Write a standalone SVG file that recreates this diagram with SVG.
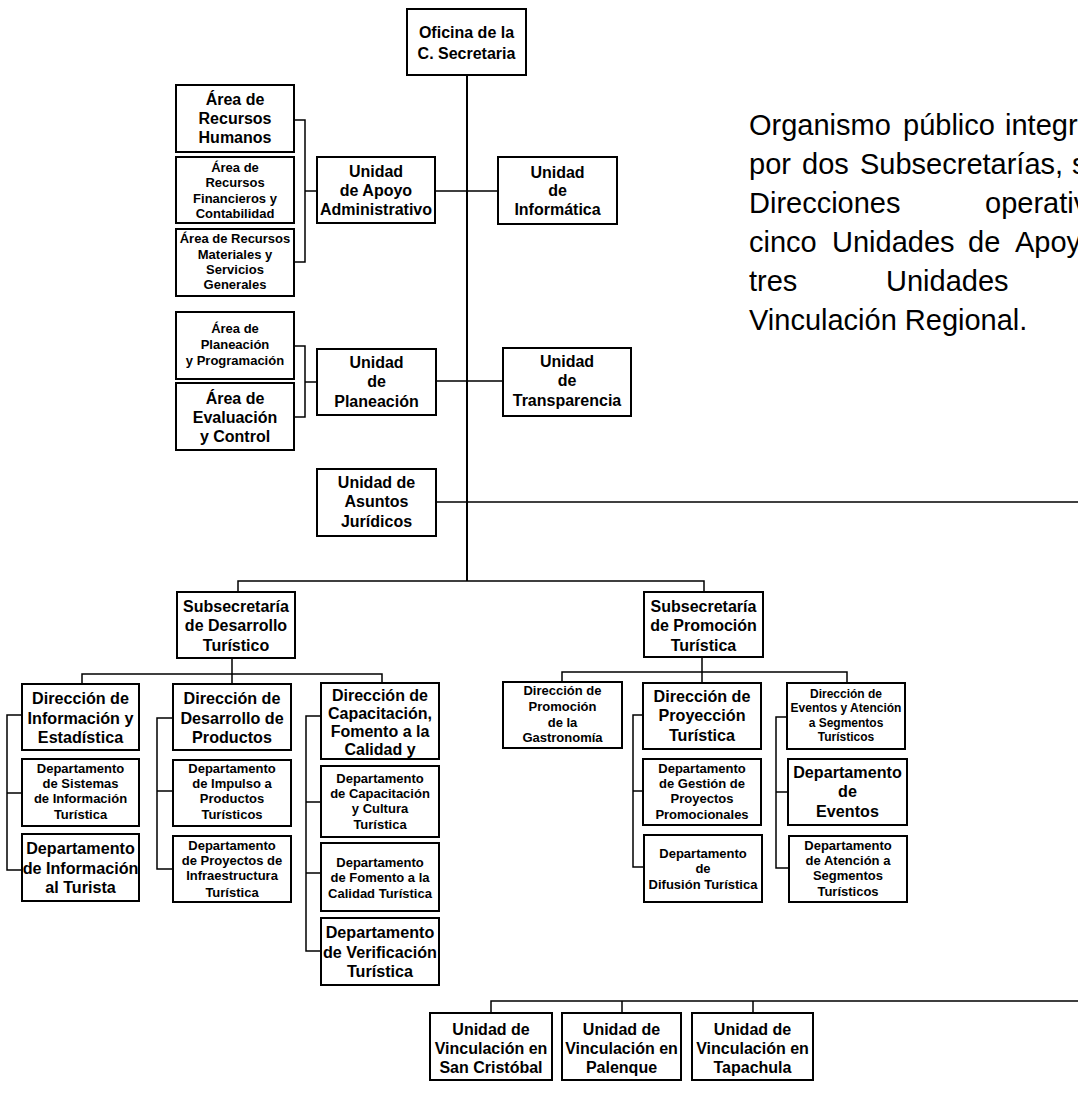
<svg xmlns="http://www.w3.org/2000/svg" width="1078" height="1099" viewBox="0 0 1078 1099">
<style>
.b{fill:#fff;stroke:#000;stroke-width:2}
.l{fill:none;stroke:#000;stroke-width:1.5}
.t{font-family:"Liberation Sans",Arial,sans-serif;font-weight:bold;fill:#000;text-anchor:middle}
.f16{font-size:16px}
.f13{font-size:13px}
.f12{font-size:12px}
.nb{font-size:17px}
.p{font-family:"Liberation Sans",Arial,sans-serif;font-size:29px;fill:#000}
</style>
<rect width="1078" height="1099" fill="#fff"/>
<g id="connectors">
<path class="l" style="stroke-width:2" d="M467 75V581"/>
<path class="l" d="M435 191H498M294 120H305V262H294M305 191H317"/>
<path class="l" d="M436 381H503M294 346H305V417H294M305 382H317"/>
<path class="l" d="M436 502H1078"/>
<path class="l" d="M238 592V581H704V592"/>
<path class="l" d="M232 658V674M82 684V674H382V683M232 674V684"/>
<path class="l" d="M22 715H7V870H22M7 793H22"/>
<path class="l" d="M173 718H157V869H173M157 791H173"/>
<path class="l" d="M321 716H306V951H321M306 802H321M306 873H321"/>
<path class="l" d="M702 657V672M562 682V672H847V683M702 672V683"/>
<path class="l" d="M643 715H633V867H643M633 791H643"/>
<path class="l" d="M787 717H776V868H788M776 792H788"/>
<path class="l" d="M491 1013V1001H1078M622 1001V1013M753 1001V1013"/>
</g>
<g id="oficina"><rect class="b" x="407" y="9" width="119" height="66"/><text class="t f16" x="466.5" y="38">Oficina de la<tspan x="466.5" y="59">C. Secretaria</tspan></text></g>
<g id="rh"><rect class="b" x="176" y="85" width="118" height="67"/><text class="t f16" x="235" y="105">Área de<tspan x="235" y="124">Recursos</tspan><tspan x="235" y="143">Humanos</tspan></text></g>
<g id="rf"><rect class="b" x="176" y="157" width="118" height="66"/><text class="t f13" x="235" y="172">Área de<tspan x="235" y="187">Recursos</tspan><tspan x="235" y="203">Financieros y</tspan><tspan x="235" y="218">Contabilidad</tspan></text></g>
<g id="rm"><rect class="b" x="176" y="229" width="118" height="67"/><text class="t f13" x="235" y="243">Área de Recursos<tspan x="235" y="259">Materiales y</tspan><tspan x="235" y="274">Servicios</tspan><tspan x="235" y="289">Generales</tspan></text></g>
<g id="apoyo"><rect class="b" x="317" y="157" width="118" height="66"/><text class="t f16" x="376" y="177">Unidad<tspan x="376" y="196">de Apoyo</tspan><tspan x="376" y="215">Administrativo</tspan></text></g>
<g id="informatica"><rect class="b" x="498" y="157" width="119" height="67"/><text class="t f16" x="557.5" y="178">Unidad<tspan x="557.5" y="196">de</tspan><tspan x="557.5" y="215">Informática</tspan></text></g>
<g id="planprog"><rect class="b" x="176" y="312" width="118" height="67"/><text class="t f13" x="235" y="333">Área de<tspan x="235" y="349">Planeación</tspan><tspan x="235" y="365">y Programación</tspan></text></g>
<g id="evaluacion"><rect class="b" x="176" y="383" width="118" height="67"/><text class="t f16" x="235" y="404">Área de<tspan x="235" y="423">Evaluación</tspan><tspan x="235" y="442">y Control</tspan></text></g>
<g id="planeacion"><rect class="b" x="317" y="349" width="119" height="66"/><text class="t f16" x="376.5" y="368">Unidad<tspan x="376.5" y="387">de</tspan><tspan x="376.5" y="407">Planeación</tspan></text></g>
<g id="transparencia"><rect class="b" x="503" y="348" width="128" height="68"/><text class="t f16" x="567" y="367">Unidad<tspan x="567" y="386">de</tspan><tspan x="567" y="406">Transparencia</tspan></text></g>
<g id="juridicos"><rect class="b" x="317" y="469" width="119" height="67"/><text class="t f16" x="376.5" y="488">Unidad de<tspan x="376.5" y="507">Asuntos</tspan><tspan x="376.5" y="527">Jurídicos</tspan></text></g>
<g id="subdes"><rect class="b" x="177" y="592" width="118" height="66"/><text class="t f16" x="236" y="612">Subsecretaría<tspan x="236" y="631">de Desarrollo</tspan><tspan x="236" y="651">Turístico</tspan></text></g>
<g id="subprom"><rect class="b" x="644" y="592" width="119" height="65"/><text class="t f16" x="703.5" y="612">Subsecretaría<tspan x="703.5" y="631">de Promoción</tspan><tspan x="703.5" y="651">Turística</tspan></text></g>
<g id="dirinfo"><rect class="b" x="22" y="684" width="117" height="66"/><g transform="translate(80.5 0) scale(0.95 1)"><text class="t nb" x="0" y="704">Dirección de<tspan x="0" y="724">Información y</tspan><tspan x="0" y="743">Estadística</tspan></text></g></g>
<g id="deptsist"><rect class="b" x="22" y="759" width="117" height="67"/><text class="t f13" x="80.5" y="773">Departamento<tspan x="80.5" y="788">de Sistemas</tspan><tspan x="80.5" y="803">de Información</tspan><tspan x="80.5" y="819">Turística</tspan></text></g>
<g id="deptinfotur"><rect class="b" x="22" y="834" width="117" height="67"/><g transform="translate(80.5 0) scale(0.95 1)"><text class="t nb" x="0" y="854">Departamento<tspan x="0" y="874">de Información</tspan><tspan x="0" y="893">al Turista</tspan></text></g></g>
<g id="dirdesprod"><rect class="b" x="173" y="684" width="118" height="66"/><g transform="translate(232 0) scale(0.95 1)"><text class="t nb" x="0" y="704">Dirección de<tspan x="0" y="724">Desarrollo de</tspan><tspan x="0" y="743">Productos</tspan></text></g></g>
<g id="deptimpulso"><rect class="b" x="173" y="760" width="118" height="66"/><text class="t f13" x="232" y="773">Departamento<tspan x="232" y="788">de Impulso a</tspan><tspan x="232" y="803">Productos</tspan><tspan x="232" y="819">Turísticos</tspan></text></g>
<g id="deptinfra"><rect class="b" x="173" y="836" width="118" height="66"/><text class="t f13" x="232" y="850">Departamento<tspan x="232" y="865">de Proyectos de</tspan><tspan x="232" y="880">Infraestructura</tspan><tspan x="232" y="897">Turística</tspan></text></g>
<g id="dircapac"><rect class="b" x="321" y="683" width="118" height="76"/><text class="t f16" x="380" y="701">Dirección de<tspan x="380" y="719">Capacitación,</tspan><tspan x="380" y="737">Fomento a la</tspan><tspan x="380" y="755">Calidad y</tspan></text></g>
<g id="deptcapcult"><rect class="b" x="321" y="766" width="118" height="71"/><text class="t f13" x="380" y="783">Departamento<tspan x="380" y="798">de Capacitación</tspan><tspan x="380" y="813">y Cultura</tspan><tspan x="380" y="829">Turística</tspan></text></g>
<g id="deptfomento"><rect class="b" x="321" y="843" width="118" height="68"/><text class="t f13" x="380" y="867">Departamento<tspan x="380" y="882">de Fomento a la</tspan><tspan x="380" y="898">Calidad Turística</tspan></text></g>
<g id="deptverif"><rect class="b" x="321" y="918" width="118" height="67"/><g transform="translate(380 0) scale(0.95 1)"><text class="t nb" x="0" y="938">Departamento<tspan x="0" y="958">de Verificación</tspan><tspan x="0" y="977">Turística</tspan></text></g></g>
<g id="dirgastro"><rect class="b" x="503" y="682" width="119" height="66"/><text class="t f13" x="562.5" y="695">Dirección de<tspan x="562.5" y="711">Promoción</tspan><tspan x="562.5" y="727">de la</tspan><tspan x="562.5" y="742">Gastronomía</tspan></text></g>
<g id="dirproy"><rect class="b" x="643" y="683" width="118" height="66"/><g transform="translate(702 0) scale(0.95 1)"><text class="t nb" x="0" y="702">Dirección de<tspan x="0" y="721">Proyección</tspan><tspan x="0" y="741">Turística</tspan></text></g></g>
<g id="deptgestion"><rect class="b" x="643" y="759" width="118" height="66"/><text class="t f13" x="702" y="773">Departamento<tspan x="702" y="788">de Gestión de</tspan><tspan x="702" y="803">Proyectos</tspan><tspan x="702" y="819">Promocionales</tspan></text></g>
<g id="deptdifusion"><rect class="b" x="644" y="835" width="118" height="67"/><text class="t f13" x="703" y="858">Departamento<tspan x="703" y="873">de</tspan><tspan x="703" y="889">Difusión Turística</tspan></text></g>
<g id="direventos"><rect class="b" x="787" y="683" width="118" height="66"/><text class="t f12" x="846" y="698">Dirección de<tspan x="846" y="712">Eventos y Atención</tspan><tspan x="846" y="727">a Segmentos</tspan><tspan x="846" y="741">Turísticos</tspan></text></g>
<g id="depteventos"><rect class="b" x="788" y="759" width="119" height="66"/><g transform="translate(847.5 0) scale(0.95 1)"><text class="t nb" x="0" y="778">Departamento<tspan x="0" y="797">de</tspan><tspan x="0" y="817">Eventos</tspan></text></g></g>
<g id="deptatencion"><rect class="b" x="789" y="836" width="118" height="66"/><text class="t f13" x="848" y="850">Departamento<tspan x="848" y="865">de Atención a</tspan><tspan x="848" y="880">Segmentos</tspan><tspan x="848" y="896">Turísticos</tspan></text></g>
<g id="sancristobal"><rect class="b" x="430" y="1013" width="122" height="67"/><text class="t f16" x="491" y="1035">Unidad de<tspan x="491" y="1054">Vinculación en</tspan><tspan x="491" y="1073">San Cristóbal</tspan></text></g>
<g id="palenque"><rect class="b" x="562" y="1013" width="119" height="67"/><text class="t f16" x="621.5" y="1035">Unidad de<tspan x="621.5" y="1054">Vinculación en</tspan><tspan x="621.5" y="1073">Palenque</tspan></text></g>
<g id="tapachula"><rect class="b" x="692" y="1013" width="121" height="67"/><text class="t f16" x="752.5" y="1035">Unidad de<tspan x="752.5" y="1054">Vinculación en</tspan><tspan x="752.5" y="1073">Tapachula</tspan></text></g>
<g id="descripcion">
<text class="p" y="135"><tspan x="749">Organismo</tspan><tspan x="903">público</tspan><tspan x="1005">integr</tspan></text>
<text class="p" y="174"><tspan x="749">por</tspan><tspan x="802">dos</tspan><tspan x="860">Subsecretarías,</tspan><tspan x="1072">s</tspan></text>
<text class="p" y="213"><tspan x="749">Direcciones</tspan><tspan x="985">operativ</tspan></text>
<text class="p" y="252"><tspan x="749">cinco</tspan><tspan x="832">Unidades</tspan><tspan x="968">de</tspan><tspan x="1015">Apoy</tspan></text>
<text class="p" y="291"><tspan x="749">tres</tspan><tspan x="886">Unidades</tspan></text>
<text class="p" y="330"><tspan x="749">Vinculación Regional.</tspan></text>
</g>
</svg>
